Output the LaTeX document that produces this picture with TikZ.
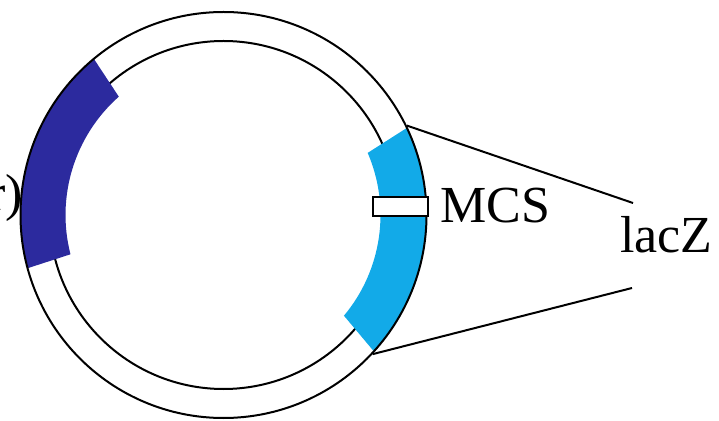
\documentclass[tikz,border=0pt]{standalone}
\usepackage{fontspec}
\setmainfont{Liberation Serif}
\definecolor{darkband}{RGB}{44,42,158}
\definecolor{lightband}{RGB}{18,170,232}
\tikzset{
  ringline/.style={line width=2pt, black},
  conn/.style={line width=2pt, black},
  lbl/.style={anchor=base west, inner sep=0pt, font=\fontsize{52}{60}\selectfont},
  mcsbox/.style={draw=black, line width=2pt, fill=white, minimum width=55pt, minimum height=19pt, inner sep=0pt}
}
\begin{document}
\begin{tikzpicture}[x=1pt,y=1pt]
\useasboundingbox (0,0) rectangle (719,420);
\clip (0,0) rectangle (719,420);
\fill[white] (0,0) rectangle (719,420);
\coordinate (C) at (223.5,205);
% ring
\draw[ringline] (C) circle[radius=174];
% bands
\fill[darkband] ([shift={(129.7:203)}]C) arc[start angle=129.7, end angle=195.2, radius=203]
  -- ([shift={(194.4:158)}]C) arc[start angle=194.4, end angle=131.5, radius=158] -- cycle;
\fill[lightband] ([shift={(-42.2:203)}]C) arc[start angle=-42.2, end angle=25.4, radius=203]
  -- ([shift={(23.3:157)}]C) arc[start angle=23.3, end angle=-39.9, radius=157] -- cycle;
\draw[ringline] (C) circle[radius=203];
% partial label at left
\node[lbl, anchor=base east] (amp) at (23,209) {r)};
% MCS
\node[mcsbox] (mcs) at (400.5,213.5) {};
\node[lbl] (mcst) at (440,197) {MCS};
\node[lbl] (lacz) at (620,167) {lacZ};
% connectors
\coordinate (t1) at ([shift={(26:204)}]C);
\coordinate (b1) at ([shift={(-43:204)}]C);
\coordinate (t2) at (633,217);
\coordinate (b2) at (632,132);
\draw[conn] (t1) -- (t2);
\draw[conn] (b1) -- (b2);
\end{tikzpicture}
\end{document}
